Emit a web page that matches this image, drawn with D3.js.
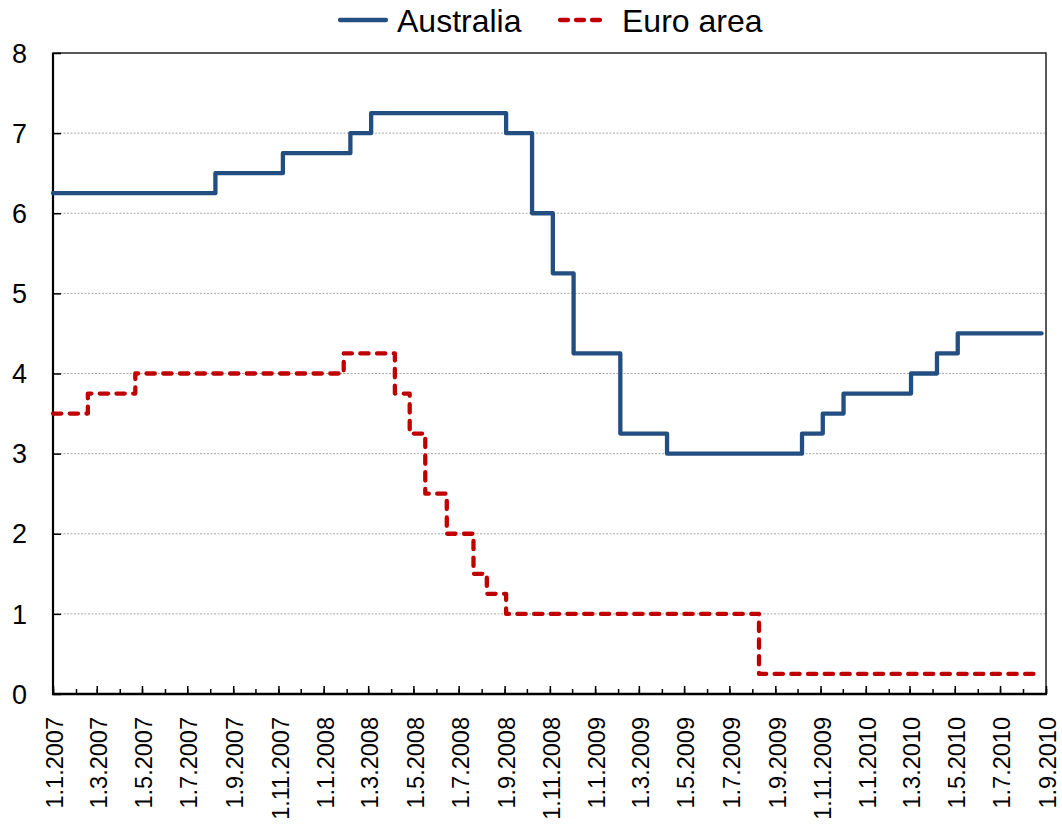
<!DOCTYPE html>
<html>
<head>
<meta charset="utf-8">
<script src="https://cdn.jsdelivr.net/npm/d3@7"></script>
<style>
  html, body { margin: 0; padding: 0; background: #fff; }
  svg { display: block; font-family: Arial, "Liberation Sans", sans-serif; }
</style>
</head>
<body>
<svg id="chart" width="1062" height="828"></svg>
<script>
// ---- data ----
const seriesNames = ["Australia", "Euro area"];
const ausDates = ["2007-01-01","2007-08-08","2007-11-07","2008-02-06","2008-03-05","2008-09-03","2008-10-08","2008-11-05","2008-12-03","2009-02-04","2009-04-08","2009-10-07","2009-11-04","2009-12-02","2010-03-03","2010-04-07","2010-05-05","2010-08-26"];
const ausValues = [6.25,6.5,6.75,7,7.25,7,6,5.25,4.25,3.25,3,3.25,3.5,3.75,4,4.25,4.5,4.5];
const euroDates = ["2007-01-01","2007-02-17","2007-04-22","2008-01-28","2008-04-06","2008-04-26","2008-05-17","2008-06-15","2008-07-21","2008-08-08","2008-09-03","2009-08-10","2010-08-26"];
const euroValues = [3.5,3.75,4,4.25,3.75,3.25,2.5,2,1.5,1.25,1,0.25,0.25];
const yTicks = [0,1,2,3,4,5,6,7,8];
const xStart = "2007-01-01", xEnd = "2010-09-01";

// ---- layout ----
const svg = d3.select("#chart");
const L = 53, R = 1046, T = 53, B = 694;
const parse = d3.utcParse("%Y-%m-%d");
const x = d3.scaleUtc().domain([parse(xStart), parse(xEnd)]).range([L, R]);
const y = d3.scaleLinear().domain([0, 8]).range([B, T]);

// gridlines
svg.append("g").selectAll("line").data(yTicks.filter(v => v > 0 && v < 8)).join("line")
  .attr("x1", L).attr("x2", R).attr("y1", d => y(d)).attr("y2", d => y(d))
  .attr("stroke", "#a8a8a8").attr("stroke-width", 1).attr("stroke-dasharray", "2,1.5");

// plot border
svg.append("rect").attr("x", L).attr("y", T).attr("width", R - L).attr("height", B - T)
  .attr("fill", "none").attr("stroke", "#222").attr("stroke-width", 1.5);

// Y axis (ticks inside)
const yAxis = d3.axisRight(y).tickValues(yTicks).tickSize(8).tickFormat("");
const gy = svg.append("g").attr("transform", `translate(${L},0)`).call(yAxis);
gy.select(".domain").remove();
gy.selectAll(".tick line").attr("stroke", "#000").attr("stroke-width", 1.5);
svg.append("g").selectAll("text").data(yTicks).join("text")
  .attr("x", 27).attr("y", d => y(d)).attr("dy", "0.36em")
  .attr("text-anchor", "end").attr("font-size", 27).attr("fill", "#000")
  .text(d => d);
svg.append("line").attr("x1", L).attr("x2", L).attr("y1", T).attr("y2", B + 1)
  .attr("stroke", "#000").attr("stroke-width", 2.2);

// X axis (ticks inside)
const minorAxis = d3.axisTop(x).ticks(d3.utcMonth.every(1)).tickSize(5).tickFormat("");
const gxm = svg.append("g").attr("transform", `translate(0,${B})`).call(minorAxis);
gxm.select(".domain").remove();
gxm.selectAll(".tick line").attr("stroke", "#000").attr("stroke-width", 1.5);
const majorTicks = d3.utcMonth.every(2).range(parse(xStart), d3.utcDay.offset(parse(xEnd), 1));
const majorAxis = d3.axisTop(x).tickValues(majorTicks).tickSize(8).tickFormat("");
const gxM = svg.append("g").attr("transform", `translate(0,${B})`).call(majorAxis);
gxM.select(".domain").remove();
gxM.selectAll(".tick line").attr("stroke", "#000").attr("stroke-width", 1.5);
svg.append("line").attr("x1", L - 1).attr("x2", R + 1).attr("y1", B).attr("y2", B)
  .attr("stroke", "#000").attr("stroke-width", 2.5);

const fmt = d => `${d.getUTCDate()}.${d.getUTCMonth() + 1}.${d.getUTCFullYear()}`;
svg.append("g").selectAll("text").data(majorTicks).join("text")
  .attr("transform", d => `translate(${x(d) + 2},717) rotate(-90)`)
  .attr("dy", "0.35em").attr("text-anchor", "end")
  .attr("font-size", 23.5).attr("fill", "#000")
  .text(fmt);

// lines
const line = d3.line().x(d => x(d.date)).y(d => y(d.value)).curve(d3.curveStepAfter);
const aus = ausDates.map((d, i) => ({date: parse(d), value: ausValues[i]}));
const euro = euroDates.map((d, i) => ({date: parse(d), value: euroValues[i]}));

svg.append("path").datum(aus).attr("d", line)
  .attr("fill", "none").attr("stroke", "#234e82").attr("stroke-width", 4.3)
  .attr("stroke-linejoin", "round").attr("stroke-linecap", "round");
svg.append("path").datum(euro).attr("d", line)
  .attr("fill", "none").attr("stroke", "#c00000").attr("stroke-width", 4.3)
  .attr("stroke-dasharray", "8.3,8.4")
  .attr("stroke-linejoin", "round").attr("stroke-linecap", "round");

// legend
const legend = [
  {name: seriesNames[0], x1: 340, x2: 386, tx: 397, color: "#234e82", dash: null},
  {name: seriesNames[1], x1: 560, x2: 603, tx: 622, color: "#c00000", dash: "8,8"}
];
const lg = svg.append("g").selectAll("g").data(legend).join("g");
lg.append("line").attr("x1", d => d.x1).attr("x2", d => d.x2).attr("y1", 20).attr("y2", 20)
  .attr("stroke", d => d.color).attr("stroke-width", 4.3).attr("stroke-linecap", "round")
  .attr("stroke-dasharray", d => d.dash);
lg.append("text").attr("x", d => d.tx).attr("y", 32).attr("font-size", 32).attr("fill", "#000")
  .text(d => d.name);
</script>
</body>
</html>
